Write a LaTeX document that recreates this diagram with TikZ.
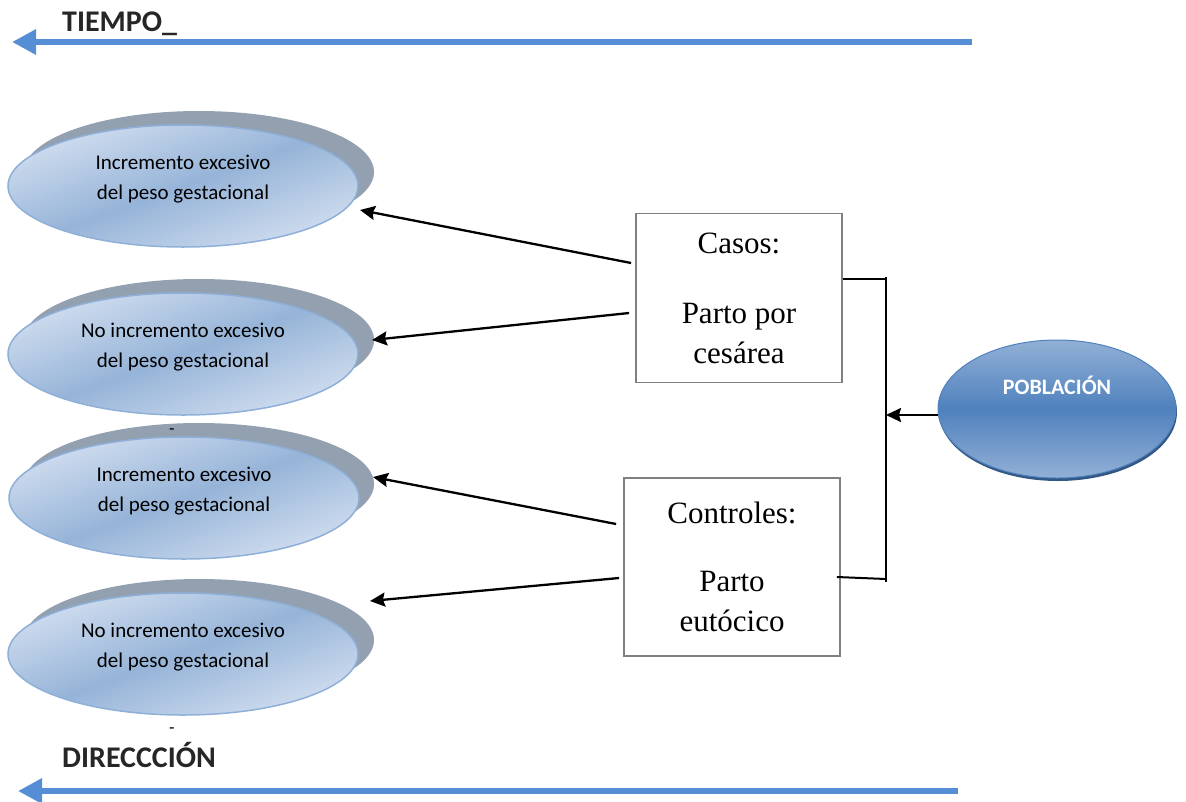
\documentclass[tikz,border=0pt]{standalone}
\usepackage{fontspec}
\setmainfont{Liberation Serif}
\newfontfamily\calibri{Carlito}
\usetikzlibrary{shapes.geometric,arrows.meta}

\definecolor{azulflecha}{RGB}{85,142,213}
\definecolor{sombra}{RGB}{146,160,176}
\definecolor{elclaro}{RGB}{208,221,239}
\definecolor{eloscuro}{RGB}{150,180,216}
\definecolor{elborde}{RGB}{142,176,216}
\definecolor{pobclaro}{RGB}{146,176,214}
\definecolor{pobmedio}{RGB}{79,129,189}
\definecolor{pobborde}{RGB}{52,88,134}
\definecolor{titulo}{RGB}{38,38,38}

\begin{document}
\begin{tikzpicture}[x=1pt, y=-1pt,
  efecto/.style={ellipse, minimum width=350pt, minimum height=122pt, inner sep=0pt,
    draw=elborde, line width=1.5pt, top color=elclaro, bottom color=elclaro,
    middle color=eloscuro, shading angle=20},
  texto/.style={align=center, yshift=7pt, font=\calibri\fontsize{21}{30}\selectfont},
  caja/.style={draw=gray, line width=1.8pt, fill=white, align=center, inner sep=0pt,
    font=\fontsize{31}{40}\selectfont},
  flecha/.style={-{Stealth[length=15pt,width=14pt,inset=2pt]}, line width=2.3pt},
  tiempo/.style={draw=azulflecha, line width=6pt, -{Triangle[length=24pt,width=24pt]}},
  rotulo/.style={font=\calibri\bfseries\fontsize{30}{34}\selectfont, text=titulo,
    anchor=base west, inner sep=0pt}]

  \useasboundingbox (0,0) rectangle (1186,801);

  % tiempo y direccion
  \coordinate (t0) at (972,42);
  \coordinate (t1) at (12,42);
  \coordinate (d0) at (958,791);
  \coordinate (d1) at (18,791);
  \draw[tiempo] (t0) -- (t1);
  \draw[tiempo] (d0) -- (d1);
  \node[rotulo] (tiem) at (62,31) {TIEMPO\_};
  \node[rotulo] (dir) at (62,767) {DIRECCCIÓN};

  % efectos
  \fill[sombra] (199,172) ellipse (175 and 61);
  \node[efecto, label={[texto]center:{Incremento excesivo\\del peso gestacional}}] (inc1) at (183,186) {};
  \fill[sombra] (199,340) ellipse (175 and 61);
  \node[efecto, label={[texto]center:{No incremento excesivo\\del peso gestacional}}] (noinc1) at (183,354) {};
  \fill[sombra] (199,484) ellipse (175 and 61);
  \node[efecto, label={[texto]center:{Incremento excesivo\\del peso gestacional}}] (inc2) at (184,498) {};
  \fill[sombra] (199,640) ellipse (175 and 61);
  \node[efecto, label={[texto]center:{No incremento excesivo\\del peso gestacional}}] (noinc2) at (183,654) {};
  \node[font=\calibri\fontsize{18}{20}\selectfont, inner sep=0pt] (guion1) at (172,432) {-};
  \node[font=\calibri\fontsize{18}{20}\selectfont, inner sep=0pt] (guion2) at (172,731) {-};

  % grupos
  \node[caja, minimum width=206pt, minimum height=169pt] (casos) at (739,298)
    {Casos:\\[30pt]Parto por\\cesárea};
  \node[caja, minimum width=216pt, minimum height=178pt] (controles) at (732,567)
    {Controles:\\[28pt]Parto\\eutócico};

  % poblacion
  \fill[pobborde] (1058,412) ellipse (119 and 69);
  \node[ellipse, minimum width=238pt, minimum height=138pt, inner sep=0pt,
    draw=pobmedio, line width=1pt, top color=pobclaro, bottom color=pobclaro,
    middle color=pobmedio,
    label={[yshift=24pt, text=white, font=\calibri\bfseries\fontsize{22}{24}\selectfont]center:POBLACIÓN}]
    (pob) at (1057,409) {};

  % conectores
  \coordinate (f1) at (360,210);
  \coordinate (f2) at (372,340);
  \coordinate (f3) at (373,477);
  \coordinate (f4) at (370,601);
  \coordinate (llave1) at (886,277);
  \coordinate (llave2) at (886,582);
  \coordinate (llave3) at (886,415);

  \draw[flecha] ([xshift=-4pt,yshift=35pt]casos.west) -- (f1);
  \draw[flecha] ([xshift=-6pt,yshift=-15pt]casos.west) -- (f2);
  \draw[flecha] ([xshift=-7pt,yshift=43pt]controles.west) -- (f3);
  \draw[flecha] ([xshift=-4pt,yshift=-11pt]controles.west) -- (f4);

  \draw[line width=2pt] ([yshift=19pt]casos.east) -- (llave1 |- 0,279) ;
  \draw[line width=2pt] (llave1) -- (llave2);
  \draw[line width=2pt] ([xshift=-4pt,yshift=-10pt]controles.east) -- (llave2 |- 0,579);
  \draw[flecha] ([yshift=-6pt]pob.west) -- (llave3);
\end{tikzpicture}
\end{document}
